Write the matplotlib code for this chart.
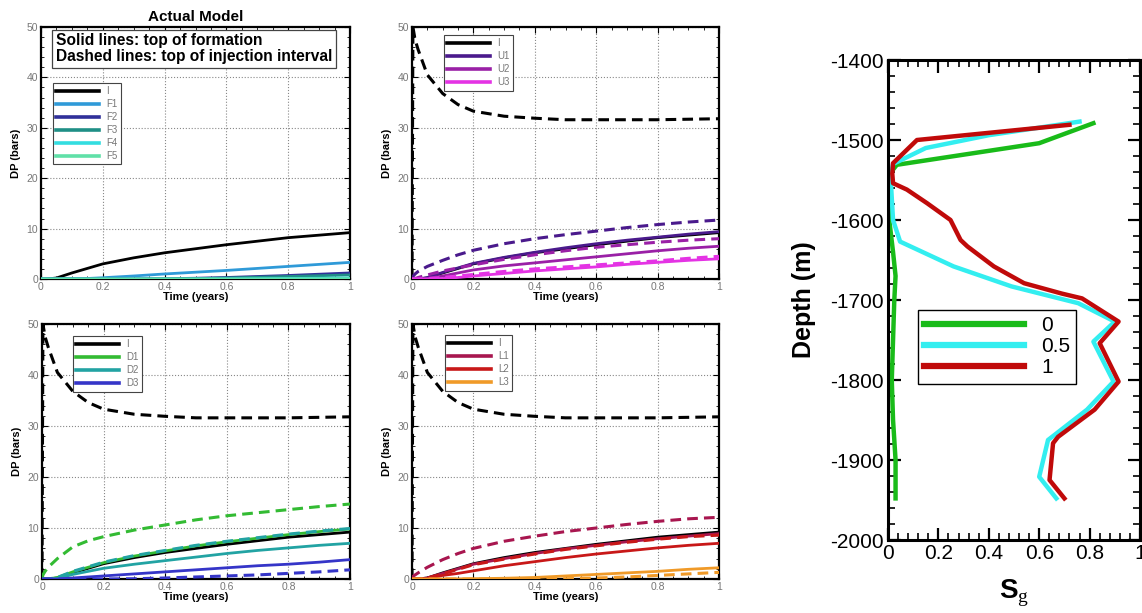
import numpy as np
import matplotlib
matplotlib.use("Agg")
import matplotlib.pyplot as plt
from matplotlib.ticker import MultipleLocator, FormatStrFormatter

plt.rcParams["font.family"] = ["Liberation Sans", "DejaVu Sans"]
plt.rcParams["axes.unicode_minus"] = False
plt.rcParams["mathtext.fontset"] = "custom"
plt.rcParams["mathtext.bf"] = "Liberation Sans:bold"
plt.rcParams["mathtext.rm"] = "Liberation Serif"

# time axis shared by every DP curve (years)
t = [0, 0.003, 0.01, 0.02, 0.05, 0.1, 0.15, 0.2, 0.3, 0.4, 0.5, 0.6, 0.7, 0.8, 0.9, 1.0]

# injection well, top of formation / top of injection interval
I_top = [0, 0, 0, 0, 0.2, 1.2, 2.1, 3.0, 4.2, 5.2, 6.0, 6.8, 7.5, 8.2, 8.7, 9.2]
I_inj = [0, 50, 47.5, 45.5, 40.5, 36.8, 34.6, 33.3, 32.3, 31.9, 31.6, 31.6, 31.6, 31.6, 31.7, 31.8]

# F wells (top of formation only)
F1 = [0, 0, 0, 0, 0, 0.05, 0.1, 0.25, 0.6, 1.0, 1.35, 1.7, 2.1, 2.5, 2.9, 3.3]
F2 = [0, 0, 0, 0, 0, 0, 0, 0, 0, 0.05, 0.15, 0.3, 0.5, 0.7, 0.95, 1.2]
F3 = [0, 0, 0, 0, 0, 0, 0, 0, 0, 0.02, 0.08, 0.2, 0.35, 0.5, 0.65, 0.8]
F4 = [0, 0, 0, 0, 0, 0, 0, 0, 0, 0, 0, 0.02, 0.05, 0.1, 0.15, 0.2]
F5 = [0, 0, 0, 0, 0, 0, 0, 0, 0, 0, 0, 0, 0, 0.02, 0.04, 0.06]

# U wells
U1_top = [0, 0, 0, 0, 0.3, 1.3, 2.2, 3.1, 4.3, 5.3, 6.2, 7.0, 7.7, 8.3, 8.9, 9.4]
U1_inj = [0, 0.5, 1.0, 1.5, 2.5, 3.7, 4.8, 5.7, 7.0, 8.0, 8.8, 9.5, 10.2, 10.8, 11.3, 11.7]
U2_top = [0, 0, 0, 0, 0.1, 0.6, 1.2, 1.8, 2.6, 3.2, 3.8, 4.4, 5.0, 5.6, 6.1, 6.5]
U2_inj = [0, 0, 0.1, 0.3, 0.8, 1.6, 2.2, 2.8, 3.9, 4.8, 5.6, 6.3, 6.8, 7.3, 7.7, 8.0]
U3_top = [0, 0, 0, 0, 0, 0.1, 0.3, 0.6, 1.1, 1.6, 2.0, 2.4, 2.9, 3.3, 3.7, 4.0]
U3_inj = [0, 0, 0, 0, 0.1, 0.3, 0.6, 0.9, 1.5, 2.0, 2.4, 2.8, 3.2, 3.6, 4.1, 4.5]

# D wells
D1_top = [0, 0, 0, 0, 0.3, 1.4, 2.3, 3.2, 4.5, 5.5, 6.5, 7.3, 8.0, 8.7, 9.3, 9.8]
D1_inj = [0, 0.8, 1.5, 2.3, 4.0, 6.3, 7.5, 8.3, 9.6, 10.6, 11.6, 12.4, 13.0, 13.6, 14.2, 14.7]
D2_top = [0, 0, 0, 0, 0.1, 0.9, 1.5, 2.1, 2.9, 3.6, 4.3, 5.0, 5.6, 6.1, 6.6, 7.0]
D2_inj = [0, 0, 0, 0, 0.3, 1.5, 2.4, 3.3, 4.6, 5.6, 6.6, 7.4, 8.1, 8.8, 9.4, 9.9]
D3_top = [0, 0, 0, 0, 0, 0.2, 0.4, 0.6, 1.0, 1.4, 1.8, 2.2, 2.6, 2.9, 3.3, 3.8]
D3_inj = [0, 0, 0, 0, 0, 0, 0, 0, 0.05, 0.2, 0.4, 0.6, 0.8, 1.1, 1.4, 1.8]

# L wells
L1_top = [0, 0, 0, 0, 0.2, 1.1, 2.0, 2.9, 4.0, 5.0, 5.9, 6.6, 7.3, 7.9, 8.4, 8.9]
L1_inj = [0, 0.5, 0.8, 1.2, 2.3, 3.8, 5.0, 6.0, 7.4, 8.4, 9.3, 10.0, 10.7, 11.3, 11.8, 12.1]
L2_top = [0, 0, 0, 0, 0.1, 0.7, 1.1, 1.6, 2.6, 3.4, 4.2, 4.9, 5.5, 6.1, 6.6, 7.0]
L2_inj = [0, 0, 0, 0, 0.2, 1.0, 1.9, 2.8, 3.9, 4.9, 5.8, 6.5, 7.2, 7.8, 8.3, 8.6]
L3_top = [0, 0, 0, 0, 0, 0, 0, 0.05, 0.15, 0.3, 0.6, 0.9, 1.2, 1.5, 1.9, 2.2]
L3_inj = [0, 0, 0, 0, 0, 0, 0, 0, 0, 0, 0.05, 0.2, 0.4, 0.7, 1.0, 1.3]

# gas saturation profiles vs depth
sg0 = [0.815, 0.60, 0.035, 0.0, 0.005, 0.02, 0.03, 0.025, 0.02, 0.015, 0.02, 0.03, 0.03]
z0 = [-1479, -1504, -1531, -1545, -1600, -1640, -1670, -1700, -1750, -1800, -1850, -1900, -1948]
sg05 = [0.76, 0.40, 0.15, 0.02, 0.01, 0.02, 0.048, 0.26, 0.49, 0.755, 0.90, 0.815, 0.895, 0.79, 0.635, 0.60, 0.668]
z05 = [-1477, -1494, -1510, -1530, -1545, -1600, -1627, -1658, -1683, -1704, -1727, -1752, -1802, -1837, -1875, -1921, -1948]
sg1 = [0.72, 0.115, 0.02, 0.017, 0.02, 0.075, 0.155, 0.248, 0.288, 0.315, 0.42, 0.54, 0.69, 0.77,
       0.915, 0.84, 0.915, 0.82, 0.675, 0.655, 0.641, 0.70]
z1 = [-1481, -1500, -1529, -1542, -1554, -1562, -1579, -1600, -1625, -1633, -1658, -1679, -1692, -1698,
      -1727, -1754, -1802, -1837, -1871, -1879, -1925, -1948]

W, H = 1142, 613
fig = plt.figure(figsize=(W / 100, H / 100), dpi=100)


def px_axes(x0, y0, x1, y1):
    return fig.add_axes([x0 / W, 1 - y1 / H, (x1 - x0) / W, (y1 - y0) / H])


def dp_panel(ax, series, leg_anchor):
    # series: list of (label, color, top_values, inj_values or None)
    for label, color, top, inj in series:
        ax.plot(t, top, color=color, lw=2.0, label=label, zorder=3)
        if inj is not None:
            ax.plot(t, inj, color=color, lw=2.2, dashes=(3.5, 2), zorder=3)
    ax.set_xlim(0, 1)
    ax.set_ylim(0, 50)
    ax.xaxis.set_major_locator(MultipleLocator(0.2))
    ax.xaxis.set_minor_locator(MultipleLocator(0.05))
    ax.xaxis.set_major_formatter(FormatStrFormatter("%g"))
    ax.yaxis.set_major_locator(MultipleLocator(10))
    ax.yaxis.set_minor_locator(MultipleLocator(2))
    ax.grid(True, which="major", color="#888888", ls=":", lw=0.8)
    ax.tick_params(which="both", direction="in", top=True, right=True,
                   labelsize=7.5, labelcolor="#777777", pad=2)
    ax.tick_params(which="major", length=4, width=0.8)
    ax.tick_params(which="minor", length=2, width=0.6)
    for s in ax.spines.values():
        s.set_linewidth(1.6)
    ax.set_xlabel("Time (years)", fontsize=8, fontweight="bold", labelpad=0)
    ax.set_ylabel("DP (bars)", fontsize=8, fontweight="bold", labelpad=4)
    leg = ax.legend(loc="upper left", bbox_to_anchor=leg_anchor, fontsize=7,
                    handlelength=4.4, handletextpad=0.7, labelspacing=0.3,
                    borderpad=0.35, borderaxespad=0, fancybox=False, framealpha=1)
    leg.get_frame().set_edgecolor("#444444")
    leg.get_frame().set_linewidth(0.8)
    for txt in leg.get_texts():
        txt.set_color("#777777")
    for line in leg.get_lines():
        line.set_linewidth(2.6)


ax1 = px_axes(41, 27, 350, 279)
dp_panel(ax1, [("I", "black", I_top, None),
               ("F1", "#2f9ad8", F1, None),
               ("F2", "#30309a", F2, None),
               ("F3", "#1f8f86", F3, None),
               ("F4", "#33dde0", F4, None),
               ("F5", "#60e0a8", F5, None)], (0.039, 0.778))
ax1.set_title("Actual Model", fontsize=11, fontweight="bold", pad=4)
ax1.text(0.048, 0.975, "Solid lines: top of formation\nDashed lines: top of injection interval",
         transform=ax1.transAxes, ha="left", va="top", fontsize=11.2, fontweight="bold",
         linespacing=1.1, zorder=5,
         bbox=dict(boxstyle="square,pad=0.22", fc="white", ec="#444444", lw=0.9))

ax2 = px_axes(412, 27, 719, 279)
dp_panel(ax2, [("I", "black", I_top, I_inj),
               ("U1", "#4a1a8c", U1_top, U1_inj),
               ("U2", "#9a20a6", U2_top, U2_inj),
               ("U3", "#e433e4", U3_top, U3_inj)], (0.104, 0.968))

ax3 = px_axes(42, 324, 350, 579)
dp_panel(ax3, [("I", "black", I_top, I_inj),
               ("D1", "#33bb33", D1_top, D1_inj),
               ("D2", "#22a3a3", D2_top, D2_inj),
               ("D3", "#3535c8", D3_top, D3_inj)], (0.10, 0.953))

ax4 = px_axes(412, 324, 719, 579)
dp_panel(ax4, [("I", "black", I_top, I_inj),
               ("L1", "#a8164f", L1_top, L1_inj),
               ("L2", "#c81818", L2_top, L2_inj),
               ("L3", "#f09a28", L3_top, L3_inj)], (0.107, 0.957))

# saturation profile panel
ax5 = px_axes(888, 60, 1140, 540)
ax5.plot(sg0, z0, color="#19bb19", lw=3.2, label="0")
ax5.plot(sg05, z05, color="#33eef0", lw=3.2, label="0.5")
ax5.plot(sg1, z1, color="#c00a0a", lw=3.2, label="1")
ax5.set_xlim(0, 1)
ax5.set_ylim(-2000, -1400)
ax5.xaxis.set_major_locator(MultipleLocator(0.2))
ax5.xaxis.set_minor_locator(MultipleLocator(0.04))
ax5.xaxis.set_major_formatter(FormatStrFormatter("%g"))
ax5.yaxis.set_major_locator(MultipleLocator(100))
ax5.yaxis.set_minor_locator(MultipleLocator(20))
ax5.tick_params(which="both", direction="in", top=True, right=True, labelsize=15, pad=3)
ax5.tick_params(which="major", length=9, width=1.6)
ax5.tick_params(which="minor", length=5, width=1.2)
for s in ax5.spines.values():
    s.set_linewidth(2.2)
ax5.set_ylabel("Depth (m)", fontsize=18, fontweight="bold", labelpad=10)
ax5.set_xlabel(r"$\mathbf{S}_{\mathrm{g}}$", fontsize=20, labelpad=10)
leg5 = ax5.legend(loc="upper left", bbox_to_anchor=(0.119, 0.479), fontsize=15,
                  handlelength=4.8, handletextpad=0.8, labelspacing=0.1,
                  borderpad=0.3, borderaxespad=0, fancybox=False, framealpha=1)
leg5.get_frame().set_edgecolor("black")
leg5.get_frame().set_linewidth(1.0)
for line in leg5.get_lines():
    line.set_linewidth(4.5)

fig.savefig("out.png", dpi=100)
